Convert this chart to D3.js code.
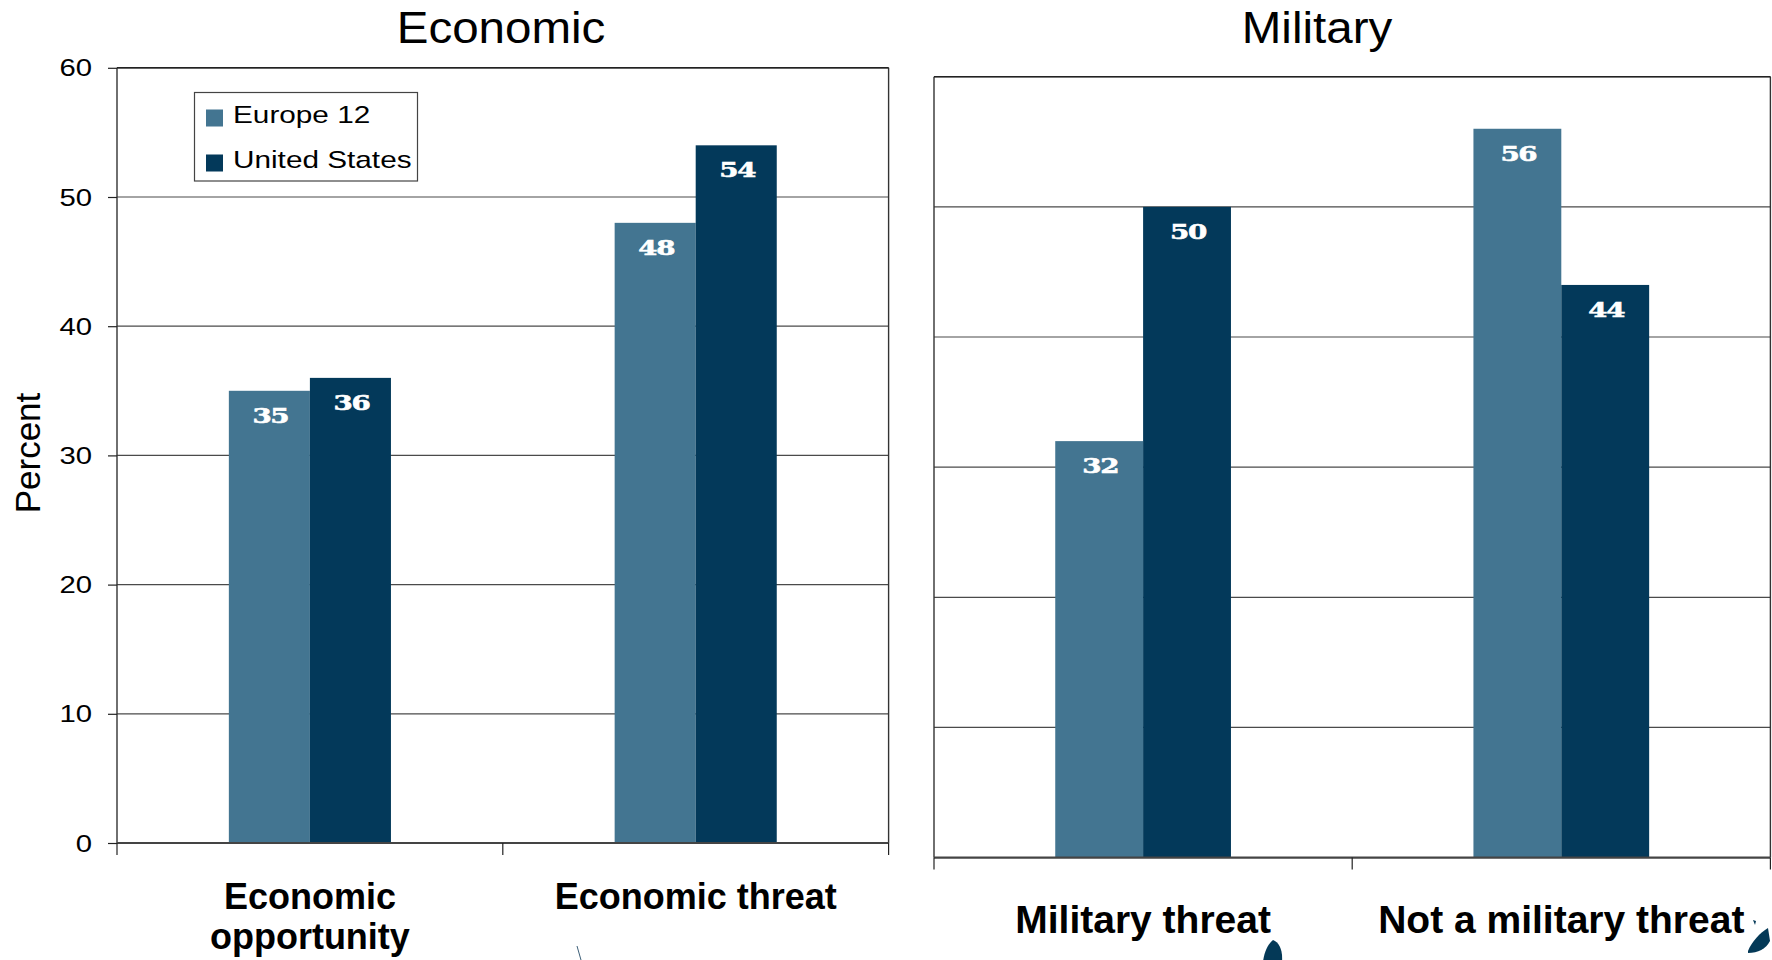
<!DOCTYPE html>
<html>
<head>
<meta charset="utf-8">
<script src="https://cdn.jsdelivr.net/npm/d3@7"></script>
<style>
  html, body { margin: 0; padding: 0; background: #ffffff; }
  svg { display: block; }
  text { font-family: "Liberation Sans", Arial, Helvetica, sans-serif; fill: #000; }
</style>
</head>
<body>
<svg id="chart" width="1772" height="960"></svg>
<script>
// ---------------- DATA ----------------
const seriesNames = ["Europe 12", "United States"];
const seriesColors = ["#437591", "#03395A"];

const economicCategories = ["Economic opportunity", "Economic threat"];
const economicEurope = [35, 48];
const economicUS = [36, 54];

const militaryCategories = ["Military threat", "Not a military threat"];
const militaryEurope = [32, 56];
const militaryUS = [50, 44];

const panelTitles = ["Economic", "Military"];
const yTickValues = [0, 10, 20, 30, 40, 50, 60];
const yAxisTitle = "Percent";

// ---------------- LAYOUT ----------------
const svg = d3.select("#chart");
const FONT = '"Liberation Sans", Arial, Helvetica, sans-serif';

const panels = [
  { title: panelTitles[0], cats: economicCategories, vals: [economicEurope, economicUS],
    x0: 117, x1: 888.6, y0: 67.8, y1: 843, labelDy: 66, labelSize: 36, lineGap: 40,
    titleX: 501, showY: true, legend: true },
  { title: panelTitles[1], cats: militaryCategories, vals: [militaryEurope, militaryUS],
    x0: 934, x1: 1770.4, y0: 76.7, y1: 857.6, labelDy: 75, labelSize: 39, lineGap: 40,
    titleX: 1317, showY: false, legend: false }
];

function stretchText(sel, x, y, sx) {
  sel.attr("x", 0).attr("y", 0).attr("transform", `translate(${x},${y}) scale(${sx},1)`);
}

panels.forEach(p => {
  const g = svg.append("g");
  const y = d3.scaleLinear().domain([0, 60]).range([p.y1, p.y0]);
  const x0 = d3.scaleBand().domain(p.cats).range([p.x0, p.x1]).paddingInner(0).paddingOuter(0);
  const x1 = d3.scaleBand().domain(seriesNames).range([0, x0.bandwidth()]).paddingInner(0).paddingOuter(1.38);

  // gridlines
  g.append("g").selectAll("line").data(yTickValues.filter(v => v > 0)).join("line")
    .attr("x1", p.x0).attr("x2", p.x1)
    .attr("y1", d => y(d)).attr("y2", d => y(d))
    .attr("stroke", "#4a4a4a").attr("stroke-width", 1.2);

  // border left/right/top
  g.append("line").attr("x1", p.x0).attr("x2", p.x0).attr("y1", p.y0).attr("y2", p.y1)
    .attr("stroke", "#333").attr("stroke-width", 1.4);
  g.append("line").attr("x1", p.x1).attr("x2", p.x1).attr("y1", p.y0).attr("y2", p.y1)
    .attr("stroke", "#333").attr("stroke-width", 1.4);
  g.append("line").attr("x1", p.x0).attr("x2", p.x1).attr("y1", p.y0).attr("y2", p.y0)
    .attr("stroke", "#222").attr("stroke-width", 1.6);

  // bars
  const rows = p.cats.map((c, i) => ({ cat: c, values: seriesNames.map((s, j) => ({ s, j, v: p.vals[j][i] })) }));
  const grp = g.append("g").selectAll("g").data(rows).join("g")
    .attr("transform", d => `translate(${x0(d.cat)},0)`);
  grp.selectAll("rect").data(d => d.values).join("rect")
    .attr("x", d => x1(d.s)).attr("width", x1.bandwidth())
    .attr("y", d => y(d.v)).attr("height", d => y(0) - y(d.v))
    .attr("fill", d => seriesColors[d.j]);
  // value labels
  grp.selectAll("text").data(d => d.values).join("text")
    .text(d => d.v)
    .attr("text-anchor", "middle")
    .style("font-family", '"DejaVu Serif", serif')
    .style("font-weight", "bold")
    .style("font-size", "21px")
    .style("letter-spacing", "-1px")
    .style("fill", "#ffffff")
    .style("stroke", "#ffffff").style("stroke-width", "0.6px")
    .each(function(d) {
      stretchText(d3.select(this), x1(d.s) + x1.bandwidth() / 2 + 1, y(d.v) + 32, 1.32);
    });

  // baseline axis
  g.append("line").attr("x1", p.x0).attr("x2", p.x1).attr("y1", y(0)).attr("y2", y(0))
    .attr("stroke", "#444").attr("stroke-width", 2.2);
  // category boundary ticks
  const bounds = p.cats.map(c => x0(c)).concat([p.x1]);
  g.append("g").selectAll("line").data(bounds).join("line")
    .attr("x1", d => d).attr("x2", d => d)
    .attr("y1", y(0)).attr("y2", y(0) + 12)
    .attr("stroke", "#222").attr("stroke-width", 1.2);

  // category labels (wrapped)
  const maxW = x0.bandwidth() * 0.95;
  p.cats.forEach(c => {
    const cx = x0(c) + x0.bandwidth() / 2;
    const t = g.append("text")
      .attr("text-anchor", "middle")
      .style("font-weight", "bold").style("font-size", p.labelSize + "px")
      .attr("x", cx).attr("y", y(0) + p.labelDy);
    const words = c.split(" ");
    let line = [];
    let ts = t.append("tspan").attr("x", cx).attr("dy", 0);
    words.forEach(w => {
      line.push(w);
      ts.text(line.join(" "));
      if (ts.node().getComputedTextLength() > maxW && line.length > 1) {
        line.pop(); ts.text(line.join(" "));
        line = [w];
        ts = t.append("tspan").attr("x", cx).attr("dy", p.lineGap).text(w);
      }
    });
  });

  // title
  g.append("text").text(p.title)
    .attr("text-anchor", "middle")
    .style("font-size", "44px")
    .each(function() { stretchText(d3.select(this), p.titleX, 43.3, 1.08); });

  // y axis
  if (p.showY) {
    const ax = g.append("g").attr("transform", `translate(${p.x0},0)`)
      .call(d3.axisLeft(y).tickValues(yTickValues).tickSize(9).tickPadding(16).tickSizeOuter(0));
    ax.select(".domain").remove();
    ax.selectAll(".tick line").attr("stroke", "#222").attr("stroke-width", 1.2);
    ax.selectAll(".tick text")
      .style("font-family", FONT).style("font-size", "24px").attr("fill", "#000")
      .attr("dy", null).style("dominant-baseline", "central")
      .each(function() {
        const sel = d3.select(this);
        const tx = +sel.attr("x");
        stretchText(sel, tx, 0, 1.22);
      });

    g.append("text").text(yAxisTitle)
      .attr("text-anchor", "middle")
      .style("font-size", "35px")
      .attr("transform", "translate(40,453) rotate(-90)");
  }

  // legend
  if (p.legend) {
    const lg = g.append("g");
    lg.append("rect").attr("x", 194.5).attr("y", 92.5).attr("width", 223).attr("height", 88.5)
      .attr("fill", "#fff").attr("stroke", "#444").attr("stroke-width", 1.2);
    const items = lg.selectAll("g").data(seriesNames).join("g")
      .attr("transform", (d, i) => `translate(0,${i * 45})`);
    items.append("rect").attr("x", 206).attr("y", 109.5).attr("width", 17).attr("height", 17)
      .attr("fill", (d, i) => seriesColors[i]);
    items.append("text").text(d => d)
      .style("font-size", "24px")
      .each(function() { stretchText(d3.select(this), 233, 123, 1.24); });
  }
});

// small decorative fragments at the bottom edge
const deco = svg.append("g").attr("fill", "#043957");
deco.append("path").attr("d", "M1263,962 C1264,953 1267,945 1273,940 C1279,942 1283,950 1282,962 Z");
deco.append("path").attr("d", "M1748,951 C1752,941 1760,933 1768,928 L1770,941 C1766,949 1758,953 1748,953 Z");
deco.append("path").attr("d", "M1753,920 L1756,921 L1755,925 Z");
svg.append("line").attr("x1", 577).attr("y1", 946).attr("x2", 581).attr("y2", 960)
  .attr("stroke", "#3d5f78").attr("stroke-width", 1);
</script>
</body>
</html>
